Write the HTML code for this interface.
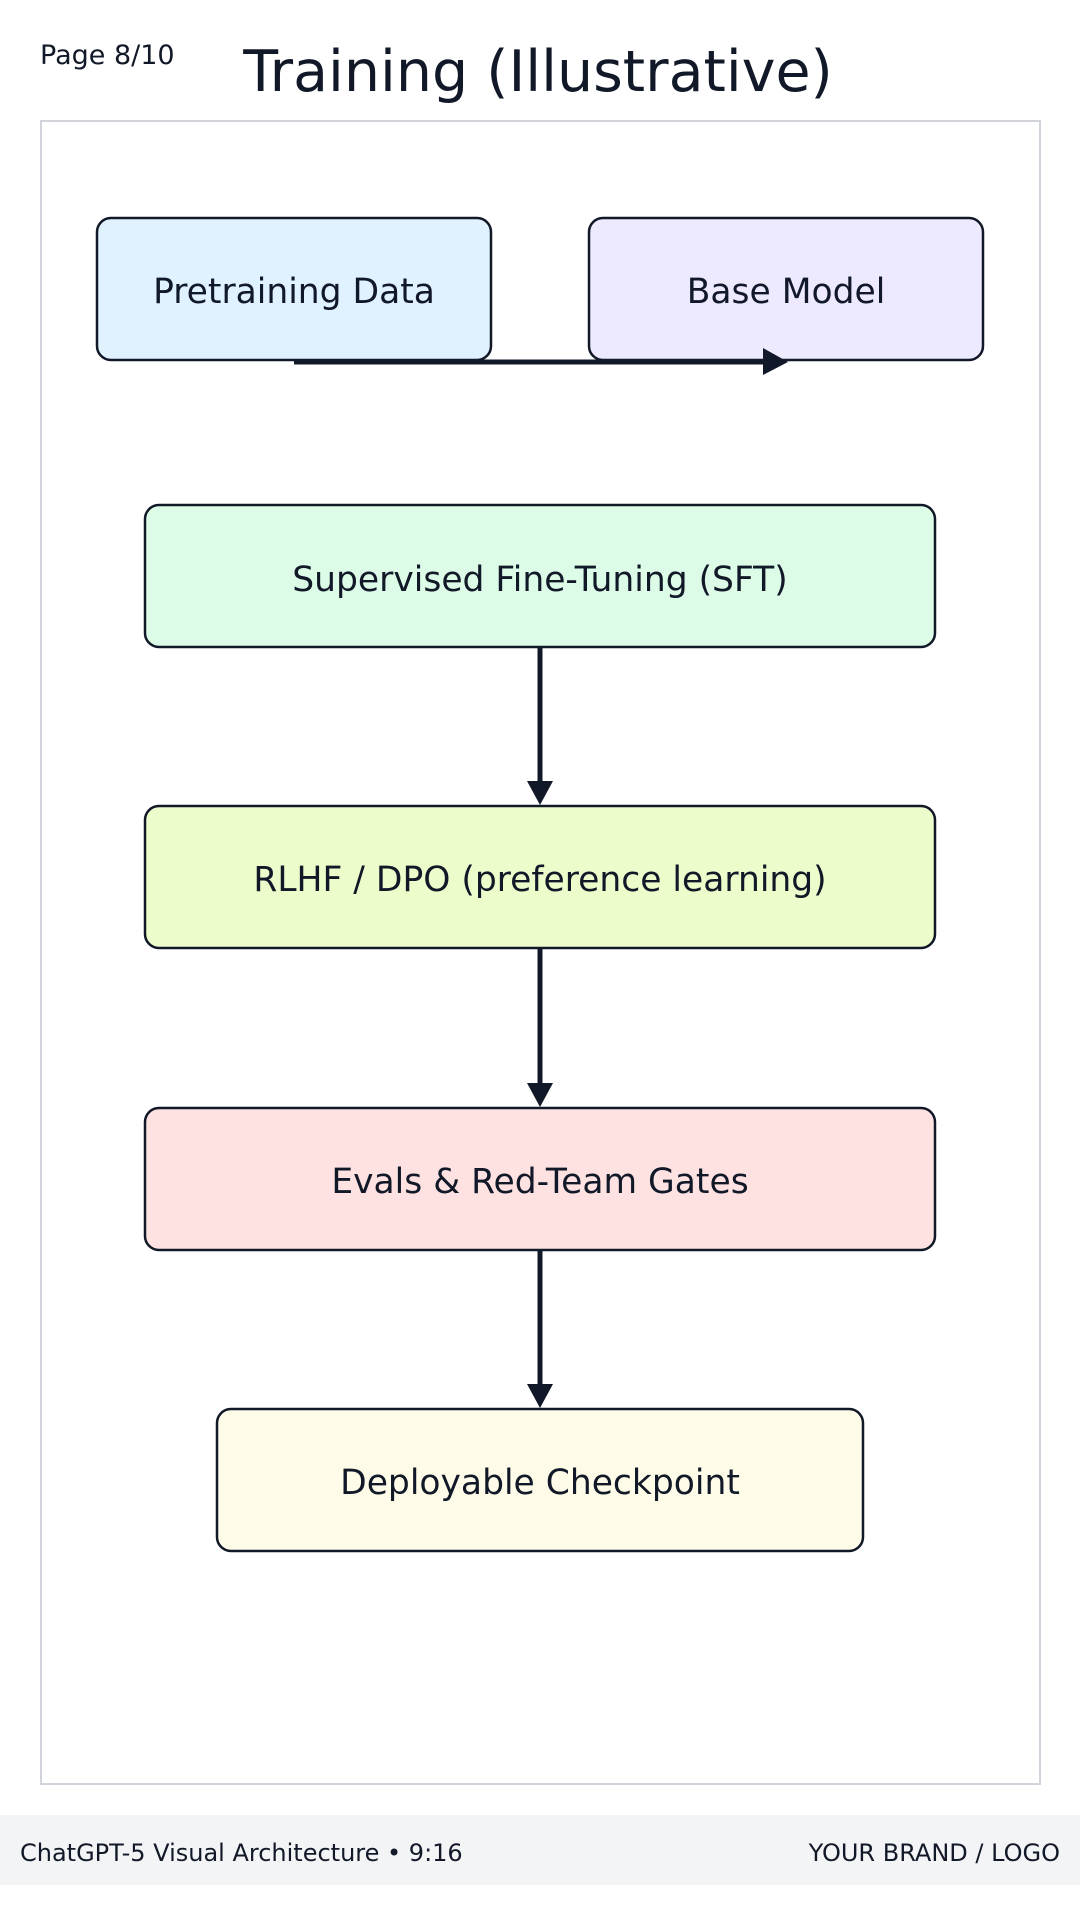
<!DOCTYPE html>
<html><head><meta charset="utf-8"><style>
body{margin:0;width:1080px;height:1920px;background:#fff;overflow:hidden}
</style></head><body>
<svg width="1080" height="1920" xmlns="http://www.w3.org/2000/svg" font-family="DejaVu Sans, Liberation Sans, sans-serif" fill="#111827">
<text x="40" y="64" font-size="27">Page 8/10</text>
<text x="538" y="91" font-size="57" text-anchor="middle">Training (Illustrative)</text>
<rect x="41" y="121" width="999" height="1663" fill="none" stroke="#d1d5db" stroke-width="2"/>
<g stroke="#111827" stroke-width="2.5">
<rect x="97" y="218" width="394" height="142" rx="14" fill="#e0f2fe"/>
<rect x="589" y="218" width="394" height="142" rx="14" fill="#ede9fe"/>
<rect x="145" y="505" width="790" height="142" rx="14" fill="#dcfce7"/>
<rect x="145" y="806" width="790" height="142" rx="14" fill="#ecfccb"/>
<rect x="145" y="1108" width="790" height="142" rx="14" fill="#fee2e2"/>
<rect x="217" y="1409" width="646" height="142" rx="14" fill="#fefce8"/>
</g>
<g font-size="34.5" text-anchor="middle">
<text x="294" y="303">Pretraining Data</text>
<text x="786" y="303">Base Model</text>
<text x="540" y="591">Supervised Fine-Tuning (SFT)</text>
<text x="540" y="891">RLHF / DPO (preference learning)</text>
<text x="540" y="1193">Evals &amp; Red-Team Gates</text>
<text x="540" y="1494">Deployable Checkpoint</text>
</g>
<g stroke="#111827" stroke-width="5">
<line x1="294" y1="362" x2="766" y2="362"/>
<line x1="540" y1="647" x2="540" y2="783"/>
<line x1="540" y1="948" x2="540" y2="1085"/>
<line x1="540" y1="1250" x2="540" y2="1386"/>
</g>
<polygon points="763,348 788,362 763,375" fill="#111827"/>
<polygon points="527,781 553,781 540,805" fill="#111827"/>
<polygon points="527,1083 553,1083 540,1107" fill="#111827"/>
<polygon points="527,1384 553,1384 540,1408" fill="#111827"/>
<rect x="0" y="1815" width="1080" height="70" fill="#f3f4f6"/>
<text x="20" y="1861" font-size="24">ChatGPT-5 Visual Architecture • 9:16</text>
<text x="1060" y="1861" font-size="24" text-anchor="end">YOUR BRAND / LOGO</text>
</svg>
</body></html>
